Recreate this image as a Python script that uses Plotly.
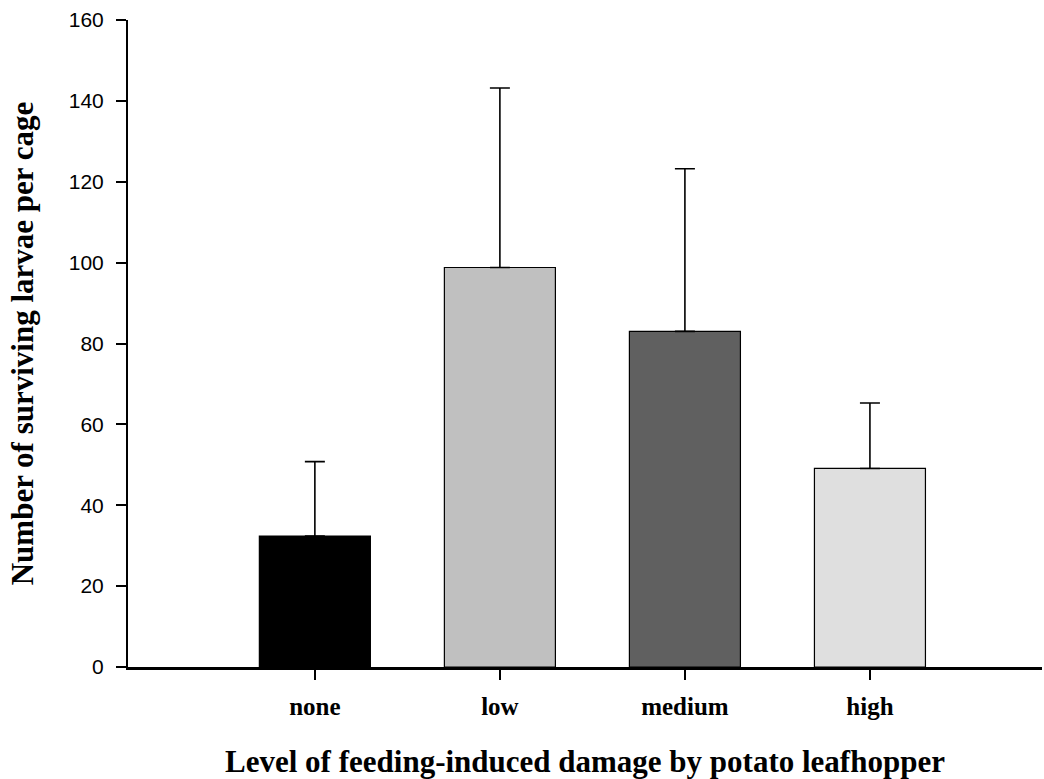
import plotly.graph_objects as go

categories = ["none", "low", "medium", "high"]
means = [32.4, 98.8, 83.0, 49.1]
errors_up = [18.4, 44.4, 40.2, 16.2]
bar_colors = ["#000000", "#c0c0c0", "#606060", "#dfdfdf"]
y_ticks = [0, 20, 40, 60, 80, 100, 120, 140, 160]

fig = go.Figure()
fig.add_trace(go.Bar(
    x=categories,
    y=means,
    width=0.6,
    marker=dict(color=bar_colors, line=dict(color="#000000", width=1.2)),
    error_y=dict(type="data", symmetric=False, array=errors_up,
                 arrayminus=[0] * len(errors_up),
                 color="#000000", thickness=1.6, width=10),
    showlegend=False,
))

serif = "Liberation Serif, Times New Roman, serif"
sans = "Liberation Sans, Arial, sans-serif"

fig.update_layout(
    width=1044, height=779,
    margin=dict(l=128, r=2, t=20, b=112),
    paper_bgcolor="white", plot_bgcolor="white",
    xaxis=dict(
        type="category",
        range=[-1.01, 3.93],
        showline=True, linecolor="black", linewidth=3,
        ticks="outside", ticklen=10, tickwidth=2, tickcolor="black",
        ticklabelstandoff=5,
        tickfont=dict(family=serif, size=25, color="black", weight="bold"),
        showgrid=False, zeroline=False,
        title=dict(text="<b>Level of feeding-induced damage by potato leafhopper</b>",
                   font=dict(family=serif, size=31, color="black"), standoff=35),
    ),
    yaxis=dict(
        range=[0, 160],
        tickvals=y_ticks,
        showline=True, linecolor="black", linewidth=2,
        ticks="outside", ticklen=10, tickwidth=2, tickcolor="black",
        ticklabelstandoff=8,
        tickfont=dict(family=sans, size=21, color="black"),
        showgrid=False, zeroline=False,
        title=dict(text="<b>Number of surviving larvae per cage</b>",
                   font=dict(family=serif, size=31, color="black"), standoff=26),
    ),
)

fig.write_html("out.html")
